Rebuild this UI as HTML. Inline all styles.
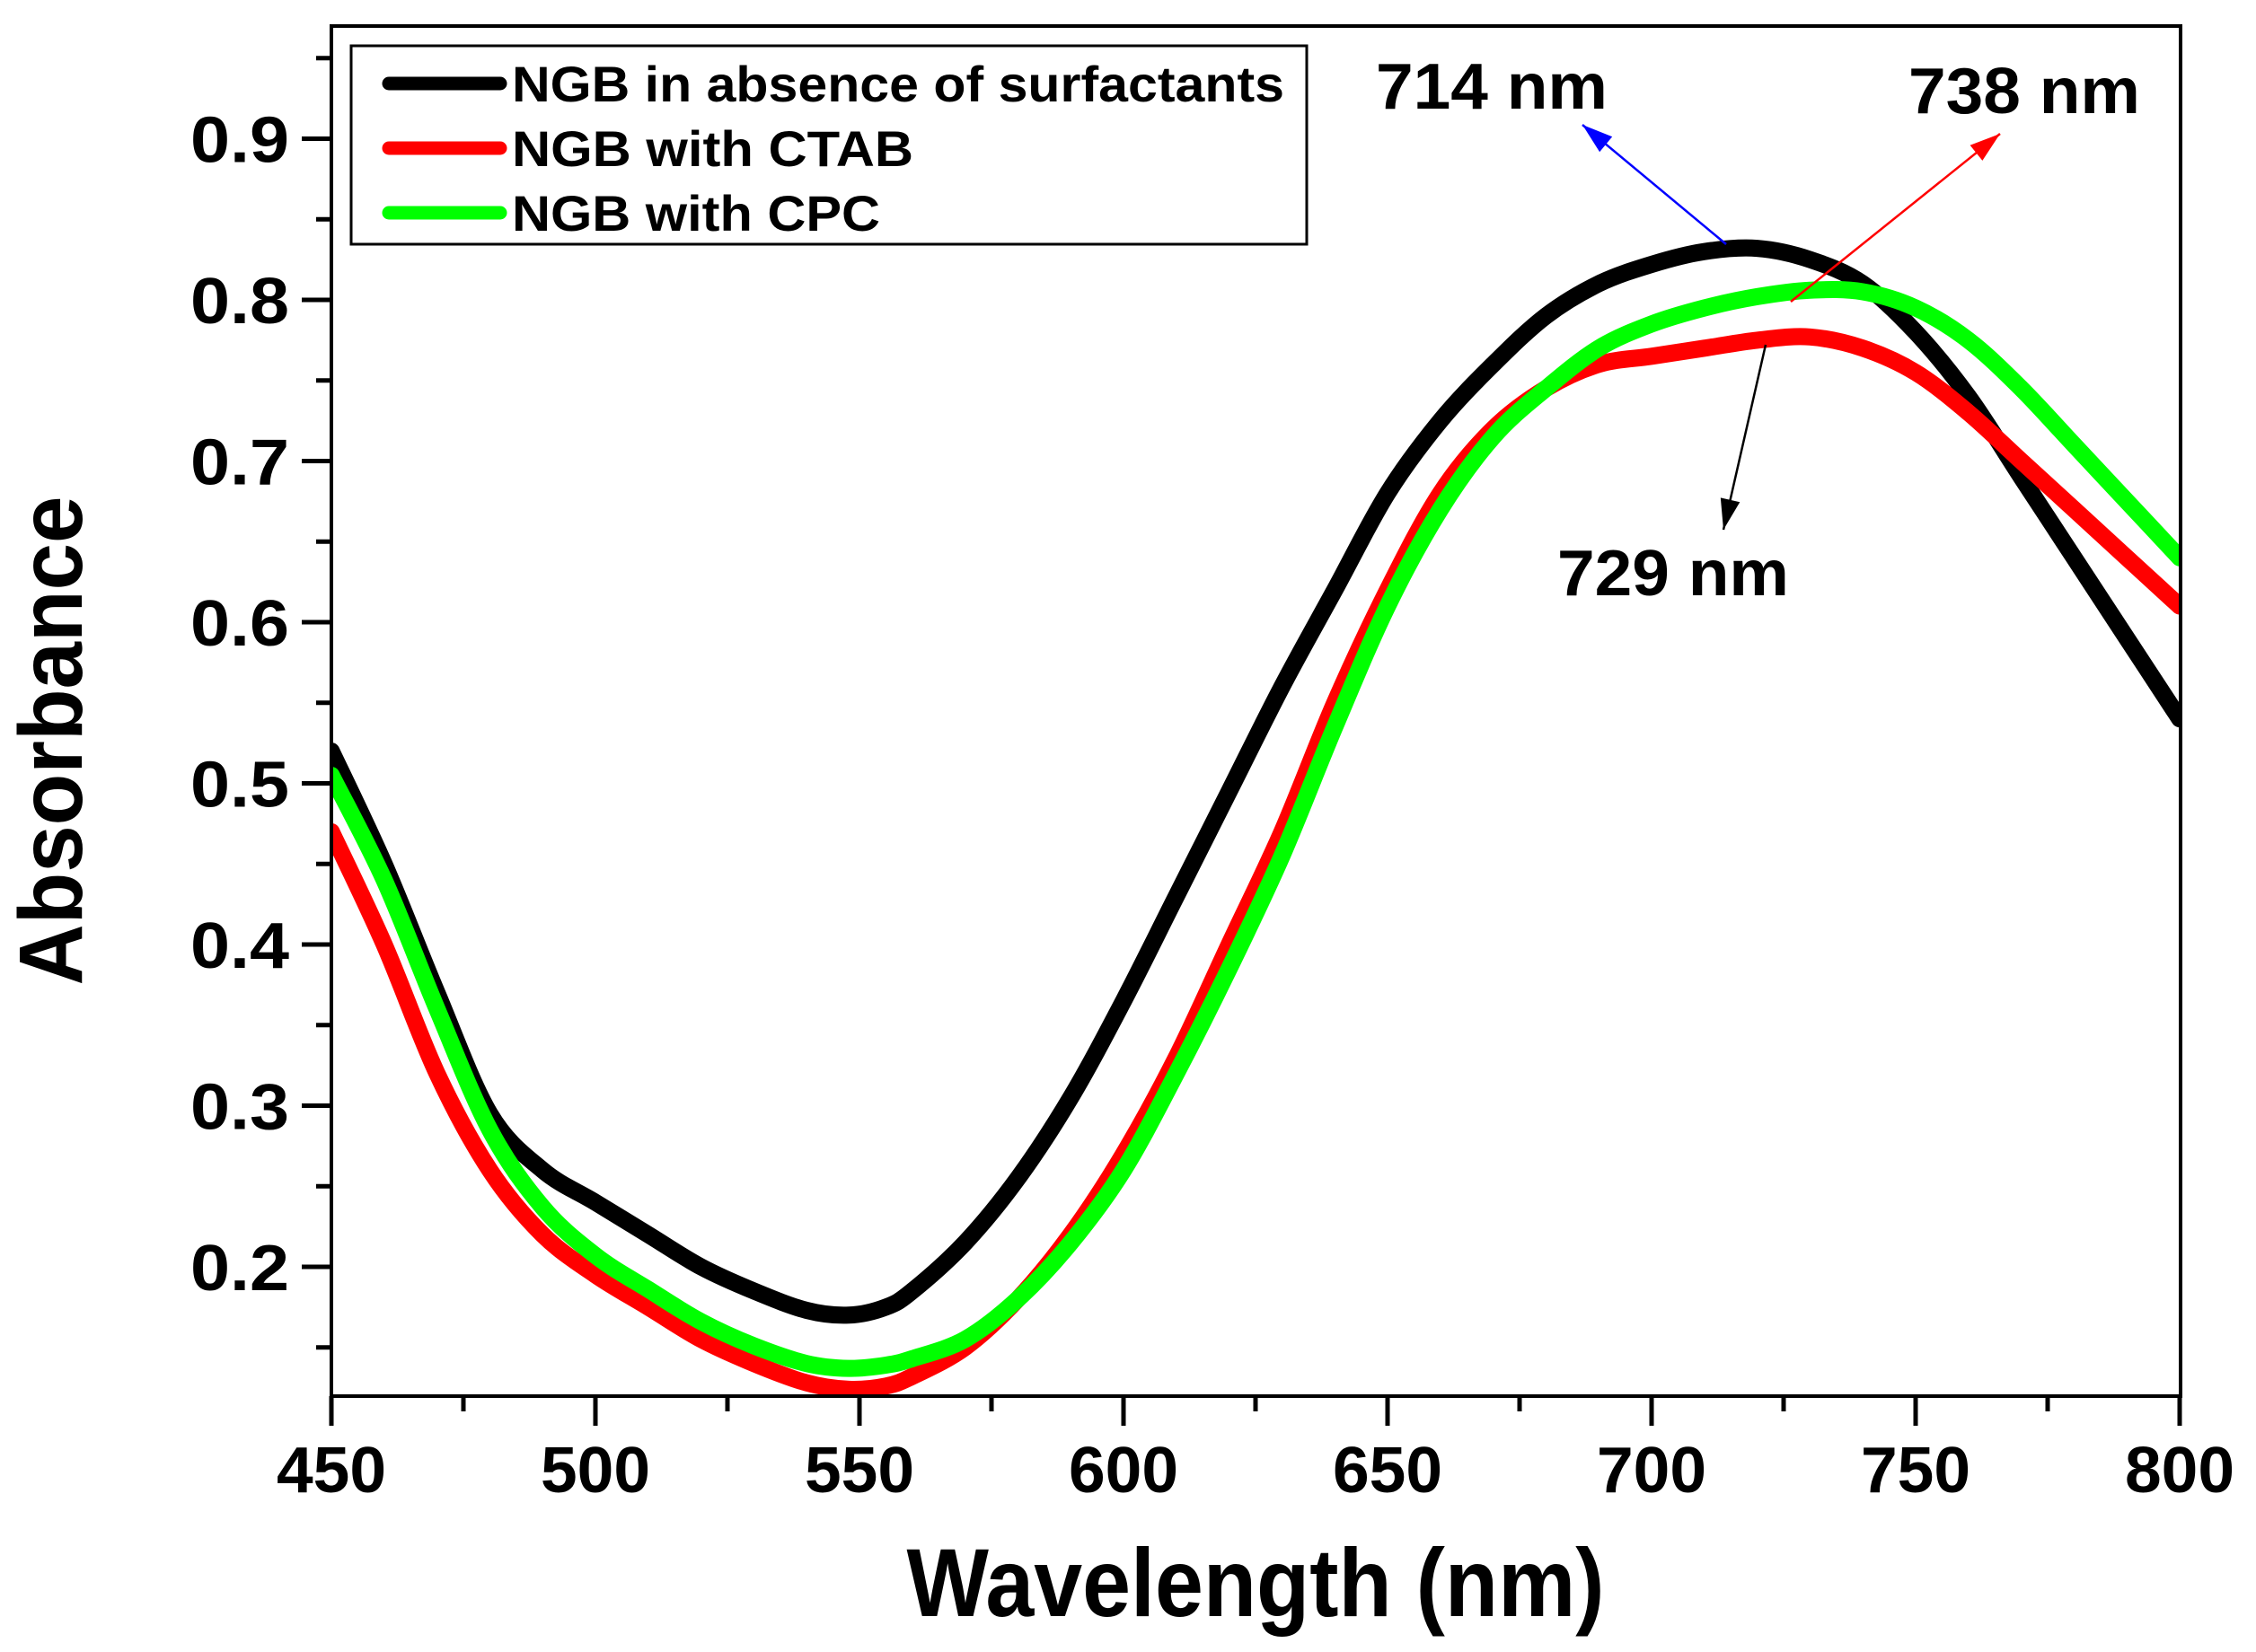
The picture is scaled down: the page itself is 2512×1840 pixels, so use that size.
<!DOCTYPE html>
<html><head><meta charset="utf-8"><style>
html,body{margin:0;padding:0;background:#fff;}
svg{display:block;font-family:"Liberation Sans",Arial,sans-serif;font-weight:bold;}
</style></head><body>
<svg id="chart" width="2512" height="1840" viewBox="0 0 2512 1840">
<defs><clipPath id="plotclip"><rect x="369" y="29" width="2059" height="1526"/></clipPath></defs>
</svg>
<script>
const wavelengths=[450,460,470,480,490,500,510,520,530,540,548,555,560,570,580,590,600,610,620,630,640,650,660,670,680,690,700,710,720,730,740,750,760,770,780,790,800];
const blackVals=[0.52,0.45,0.37,0.295,0.26,0.24,0.22,0.20,0.185,0.173,0.170,0.175,0.185,0.215,0.255,0.305,0.365,0.43,0.495,0.56,0.62,0.68,0.725,0.76,0.79,0.81,0.822,0.83,0.832,0.825,0.81,0.78,0.74,0.69,0.64,0.59,0.54];
const redVals=[0.47,0.40,0.32,0.26,0.22,0.195,0.175,0.155,0.14,0.128,0.124,0.126,0.132,0.15,0.18,0.22,0.27,0.33,0.40,0.47,0.55,0.62,0.68,0.72,0.745,0.76,0.765,0.77,0.775,0.777,0.77,0.755,0.73,0.70,0.67,0.64,0.61];
const greenVals=[0.505,0.44,0.36,0.285,0.237,0.207,0.186,0.166,0.151,0.14,0.137,0.139,0.143,0.155,0.18,0.215,0.26,0.32,0.385,0.455,0.535,0.61,0.67,0.715,0.745,0.77,0.785,0.795,0.802,0.806,0.805,0.795,0.775,0.745,0.71,0.675,0.64];
const xTicks=[450,500,550,600,650,700,750,800];
const yTicks=[0.2,0.3,0.4,0.5,0.6,0.7,0.8,0.9];
const NS='http://www.w3.org/2000/svg';
const svg=document.getElementById('chart');
const X=v=>369+(v-450)*5.88;
const Y=v=>1411-(v-0.2)*1795;
function mk(tag,attrs,parent){const e=document.createElementNS(NS,tag);for(const k in attrs)e.setAttribute(k,attrs[k]);(parent||svg).appendChild(e);return e;}
const g=mk('g',{'clip-path':'url(#plotclip)'});


function curve(vals,color,name){
  const P=wavelengths.map((w,i)=>[X(w),Y(vals[i])]);
  let d='M'+P[0][0].toFixed(1)+','+P[0][1].toFixed(1);
  for(let i=0;i<P.length-1;i++){
    const p0=P[Math.max(0,i-1)],p1=P[i],p2=P[i+1],p3=P[Math.min(P.length-1,i+2)];
    const c1=[p1[0]+(p2[0]-p0[0])/6,p1[1]+(p2[1]-p0[1])/6];
    const c2=[p2[0]-(p3[0]-p1[0])/6,p2[1]-(p3[1]-p1[1])/6];
    d+=' C'+c1[0].toFixed(1)+','+c1[1].toFixed(1)+' '+c2[0].toFixed(1)+','+c2[1].toFixed(1)+' '+p2[0].toFixed(1)+','+p2[1].toFixed(1);
  }
  const p=mk('path',{d:d,fill:'none',stroke:color,'stroke-width':19,'stroke-linejoin':'round','stroke-linecap':'round'},g);
  
  
}
curve(blackVals,'#000','series-no-surfactant');
curve(redVals,'#ff0000','series-ctab');
curve(greenVals,'#00ff00','series-cpc');
const fr=mk('rect',{x:369,y:29,width:2059,height:1526,fill:'none',stroke:'#000','stroke-width':4});


for(let w=450;w<=800;w+=25){
  const major=(w%50===0);
  const t=mk('line',{x1:X(w),x2:X(w),y1:1555,y2:major?1588:1572,stroke:'#000','stroke-width':5});
  
  
}
xTicks.forEach(w=>{
  const t=mk('text',{x:X(w),y:1662,'text-anchor':'middle','font-size':72,textLength:122,lengthAdjust:'spacingAndGlyphs'});
  t.textContent=w;
  
  
});
for(let k=15;k<=95;k+=5){
  const v=k/100;const major=(k%10===0);
  const t=mk('line',{x1:369,x2:major?336:352,y1:Y(v),y2:Y(v),stroke:'#000','stroke-width':5});
  
  
}
yTicks.forEach(v=>{
  const t=mk('text',{x:322,y:Y(v)+26,'text-anchor':'end','font-size':72,textLength:110,lengthAdjust:'spacingAndGlyphs'});
  t.textContent=v.toFixed(1);
  
  
});
const xt=mk('text',{x:1398,y:1768+32,'text-anchor':'middle','font-size':108,textLength:777,lengthAdjust:'spacingAndGlyphs'});
xt.textContent='Wavelength (nm)';


const yt=mk('text',{x:0,y:0,'text-anchor':'middle','font-size':100,textLength:545,lengthAdjust:'spacingAndGlyphs',transform:'translate(91,825) rotate(-90)'});
yt.textContent='Absorbance';


const lg=mk('g',{});


mk('rect',{x:391,y:51,width:1064,height:221,fill:'#fff',stroke:'#000','stroke-width':3},lg);
const entries=[['NGB in absence of surfactants','#000',860],['NGB with CTAB','#ff0000',447],['NGB with CPC','#00ff00',410]];
entries.forEach((e,i)=>{
  const cy=93+i*72;
  const ln=mk('line',{x1:433,x2:557,y1:cy,y2:cy,stroke:e[1],'stroke-width':15,'stroke-linecap':'round'},lg);
  
  
  const t=mk('text',{x:570,y:cy+20,'font-size':56,textLength:e[2],lengthAdjust:'spacingAndGlyphs'},lg);
  t.textContent=e[0];
  
  
});
function ann(txt,x,y,name,len){const t=mk('text',{x:x,y:y,'text-anchor':'middle','font-size':72,textLength:len,lengthAdjust:'spacingAndGlyphs'});t.textContent=txt;}
ann('714 nm',1661,121,'peak-label-714',258);
ann('738 nm',2254,126,'peak-label-738',258);
ann('729 nm',1863,663,'peak-label-729',258);
function arrow(x1,y1,x2,y2,c,name){
  const l=mk('line',{x1:x1,y1:y1,x2:x2,y2:y2,stroke:c,'stroke-width':2.5});
  
  
  const a=Math.atan2(y2-y1,x2-x1),L=34,W=11;
  const bx=x2-L*Math.cos(a),by=y2-L*Math.sin(a);
  const p=mk('polygon',{points:`${x2},${y2} ${bx+W*Math.sin(a)},${by-W*Math.cos(a)} ${bx-W*Math.sin(a)},${by+W*Math.cos(a)}`,fill:c});
  
  
}
arrow(1922,272,1762,139,'#0000ff','arrow-714');
arrow(1994,336,2227,149,'#ff0000','arrow-738');
arrow(1966,384,1919,590,'#000','arrow-729');
</script>
</body></html>
